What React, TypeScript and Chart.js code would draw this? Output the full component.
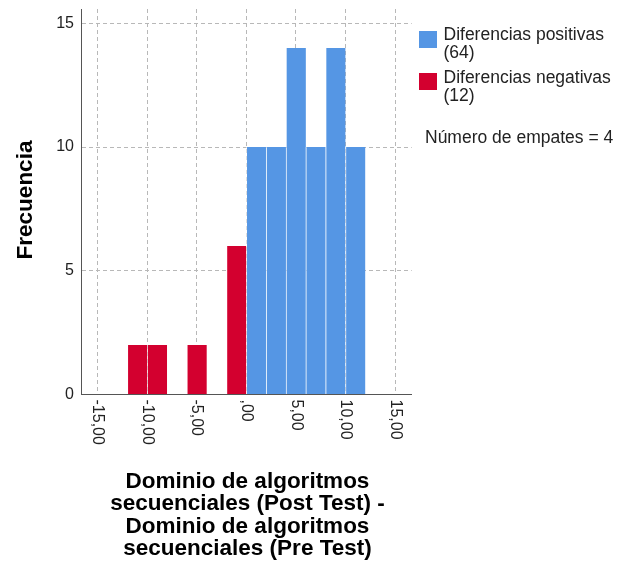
import React, { useEffect, useRef } from "react";
import { Chart, registerables } from "chart.js";

Chart.register(...registerables);

// ---- data ----
const NEG_BIN_CENTERS = [-11, -9, -5, -1];
const NEG_COUNTS = [2, 2, 2, 6];
const POS_BIN_CENTERS = [1, 3, 5, 7, 9, 11];
const POS_COUNTS = [10, 10, 14, 10, 14, 10];
const X_TICKS = [-15, -10, -5, 0, 5, 10, 15];
const X_TICK_LABELS = ["-15,00", "-10,00", "-5,00", ",00", "5,00", "10,00", "15,00"];
const Y_TICKS = [0, 5, 10, 15];
const X_TITLE = [
  "Dominio de algoritmos",
  "secuenciales (Post Test) -",
  "Dominio de algoritmos",
  "secuenciales (Pre Test)",
];
const Y_TITLE = "Frecuencia";
const LEGEND_ITEMS = [
  { lines: ["Diferencias positivas", "(64)"], color: "#5596E4" },
  { lines: ["Diferencias negativas", "(12)"], color: "#D3002F" },
];
const TIES_TEXT = "Número de empates = 4";

const FONT = "'Liberation Sans', Arial, sans-serif";
const BLUE = "#5596E4";
const RED = "#D3002F";
const GRID = "#B8B8B8";
const AXIS = "#555555";
const DASH = [4, 3];

const textPlugin = {
  id: "spssText",
  afterDraw(chart: any) {
    const ctx = chart.ctx;
    const xs = chart.scales.x;
    const area = chart.chartArea;
    ctx.save();
    // x tick labels rotated clockwise
    ctx.fillStyle = "#222222";
    ctx.font = `16px ${FONT}`;
    X_TICKS.forEach((v, i) => {
      const px = xs.getPixelForValue(v);
      ctx.save();
      ctx.translate(px, area.bottom + 5);
      ctx.rotate(Math.PI / 2);
      ctx.textAlign = "left";
      ctx.textBaseline = "middle";
      ctx.fillText(X_TICK_LABELS[i], 0, 0);
      ctx.restore();
    });
    // x title
    ctx.fillStyle = "#000000";
    ctx.font = `bold 22.5px ${FONT}`;
    ctx.textAlign = "center";
    ctx.textBaseline = "alphabetic";
    X_TITLE.forEach((line, i) => {
      ctx.fillText(line, 247.5, 487.5 + i * 22.5);
    });
    // y title
    ctx.save();
    ctx.translate(32, 200);
    ctx.rotate(-Math.PI / 2);
    ctx.textAlign = "center";
    ctx.textBaseline = "alphabetic";
    ctx.fillText(Y_TITLE, 0, 0);
    ctx.restore();
    // legend
    ctx.font = `17.5px ${FONT}`;
    ctx.textAlign = "left";
    const boxTops = [31, 73];
    const baselines = [
      [39.5, 57.5],
      [83, 100.5],
    ];
    LEGEND_ITEMS.forEach((item, i) => {
      ctx.fillStyle = item.color;
      ctx.fillRect(419, boxTops[i], 18, 17);
      ctx.fillStyle = "#222222";
      item.lines.forEach((l, j) => ctx.fillText(l, 443.5, baselines[i][j]));
    });
    ctx.fillText(TIES_TEXT, 425, 142.5);
    ctx.restore();
  },
};

export default function App() {
  const ref = useRef<HTMLCanvasElement>(null);
  useEffect(() => {
    if (!ref.current) return;
    const barStyle = {
      borderColor: "rgba(255,255,255,0.55)",
      borderWidth: { left: 1, right: 0, top: 0, bottom: 0 },
      borderSkipped: "start",
      barPercentage: 1,
      categoryPercentage: 1,
      grouped: false,
    };
    const chart = new Chart(ref.current, {
      type: "bar",
      data: {
        datasets: [
          {
            label: "Diferencias positivas",
            data: POS_BIN_CENTERS.map((x, i) => ({ x, y: POS_COUNTS[i] })),
            backgroundColor: BLUE,
            ...barStyle,
          },
          {
            label: "Diferencias negativas",
            data: NEG_BIN_CENTERS.map((x, i) => ({ x, y: NEG_COUNTS[i] })),
            backgroundColor: RED,
            ...barStyle,
          },
        ] as any,
      },
      options: {
        animation: false,
        responsive: false,
        events: [],
        layout: { padding: { top: 9, right: 207.3, left: 0, bottom: 0 } },
        plugins: { legend: { display: false }, tooltip: { enabled: false } },
        scales: {
          x: {
            type: "linear",
            min: -16.68,
            max: 16.68,
            offset: false,
            afterBuildTicks: (s: any) => {
              s.ticks = X_TICKS.map((v) => ({ value: v }));
            },
            afterFit: (s: any) => {
              s.height = 166.5;
              s.paddingLeft = 0;
              s.paddingRight = 0;
            },
            ticks: { display: false },
            grid: { offset: false, color: GRID, lineWidth: 1, drawTicks: false },
            border: { display: true, color: AXIS, width: 1, dash: DASH },
          } as any,
          y: {
            type: "linear",
            min: 0,
            max: 15.58,
            afterBuildTicks: (s: any) => {
              s.ticks = Y_TICKS.map((v) => ({ value: v }));
            },
            afterFit: (s: any) => {
              s.width = 81;
              s.paddingTop = 0;
              s.paddingBottom = 0;
            },
            ticks: {
              font: { family: FONT, size: 16 },
              color: "#222222",
              padding: 7,
              callback: (v: any) => String(v),
            },
            grid: { color: GRID, lineWidth: 1, drawTicks: false },
            border: { display: true, color: AXIS, width: 1, dash: DASH },
          } as any,
        },
      } as any,
      plugins: [textPlugin],
    });
    return () => chart.destroy();
  }, []);
  return (
    <div style={{ position: "fixed", left: 0, top: 0, width: 619, height: 561, background: "#fff" }}>
      <canvas ref={ref} width={619} height={561} style={{ display: "block" }} />
    </div>
  );
}
